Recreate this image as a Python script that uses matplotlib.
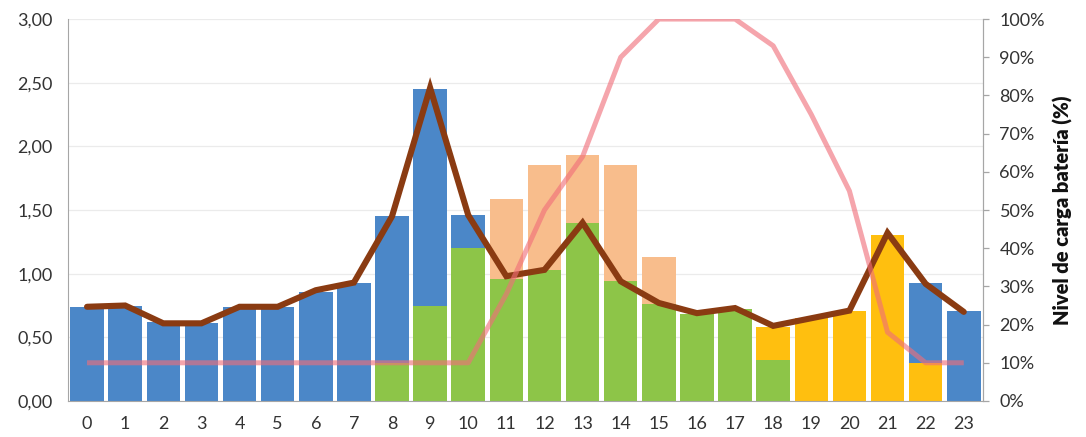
import matplotlib
matplotlib.use('Agg')
import matplotlib.pyplot as plt
from matplotlib.ticker import FuncFormatter, MultipleLocator

plt.rcParams['font.family'] = ['Lato', 'DejaVu Sans']

# ── datos (kWh por hora y nivel de batería) ──
hours = list(range(24))
solar_direct = [0, 0, 0, 0, 0, 0, 0, 0, 0.30, 0.75, 1.20, 0.96, 1.03, 1.40, 0.94, 0.76,
                0.68, 0.72, 0.32, 0, 0, 0, 0, 0]
battery_out = [0] * 18 + [0.26, 0.65, 0.71, 1.30, 0.30, 0]
grid = [0.74, 0.75, 0.62, 0.61, 0.74, 0.74, 0.86, 0.93, 1.15, 1.70, 0.26, 0, 0, 0, 0, 0,
        0, 0, 0, 0, 0, 0, 0.63, 0.71]
surplus = [0] * 11 + [0.63, 0.82, 0.53, 0.91, 0.37] + [0] * 8
consumption = [0.74, 0.75, 0.61, 0.61, 0.74, 0.74, 0.87, 0.93, 1.45, 2.46, 1.46, 0.98,
               1.03, 1.40, 0.94, 0.77, 0.69, 0.73, 0.59, 0.65, 0.71, 1.32, 0.92, 0.70]
battery_pct = [10] * 11 + [28, 50, 64, 90, 100, 100, 100, 93, 75, 55, 18, 10, 10]

C_GREEN = '#8dc548'
C_YELLOW = '#ffbf0f'
C_BLUE = '#4b87c8'
C_ORANGE = '#f8bd8c'
C_BROWN = '#8a3b12'
C_PINK = '#f06e79'
C_AXIS = '#a6a6a6'

fig = plt.figure(figsize=(10.86, 4.37), dpi=100)
ax = fig.add_axes([0.0626, 0.0824, 0.8424, 0.874])
ax2 = ax.twinx()

W = 0.88
bottom = [0] * 24
for vals, col in [(solar_direct, C_GREEN), (battery_out, C_YELLOW),
                  (grid, C_BLUE), (surplus, C_ORANGE)]:
    ax.bar(hours, vals, width=W, bottom=bottom, color=col, zorder=2, linewidth=0)
    bottom = [b + v for b, v in zip(bottom, vals)]

ax.plot(hours, consumption, color=C_BROWN, lw=4.4, zorder=4,
        solid_joinstyle='miter', solid_capstyle='round')
ax2.plot(hours, battery_pct, color=C_PINK, lw=3.6, alpha=0.62, zorder=5,
         solid_joinstyle='round', solid_capstyle='butt')

ax.set_xlim(-0.5, 23.5)
ax.set_ylim(0, 3)
ax2.set_ylim(0, 100)
ax.yaxis.set_major_locator(MultipleLocator(0.5))
ax.yaxis.set_major_formatter(FuncFormatter(lambda v, p: f'{v:.2f}'.replace('.', ',')))
ax2.yaxis.set_major_locator(MultipleLocator(10))
ax2.yaxis.set_major_formatter(FuncFormatter(lambda v, p: f'{v:.0f}%'))
ax.set_xticks(hours)

ax.grid(axis='y', color='#ebebeb', lw=0.9, zorder=0)
ax.set_axisbelow(True)

for a in (ax, ax2):
    a.spines['top'].set_visible(False)
    a.spines['left'].set_color(C_AXIS)
    a.spines['bottom'].set_color(C_AXIS)
    a.spines['right'].set_color(C_AXIS)
ax2.spines['left'].set_visible(False)
ax2.spines['bottom'].set_visible(False)

ax.tick_params(axis='y', length=0, pad=11, labelsize=13, labelcolor='#333333')
ax.tick_params(axis='x', length=0, pad=11, labelsize=13, labelcolor='#333333')
ax2.tick_params(axis='y', length=4, width=0.9, color=C_AXIS, pad=8, labelsize=13,
                labelcolor='#333333')

ax2.set_ylabel('Nivel de carga batería (%)', fontsize=14.5, fontweight='heavy',
               color='#111111', labelpad=6)

fig.savefig('out.png', dpi=100, facecolor='white')
